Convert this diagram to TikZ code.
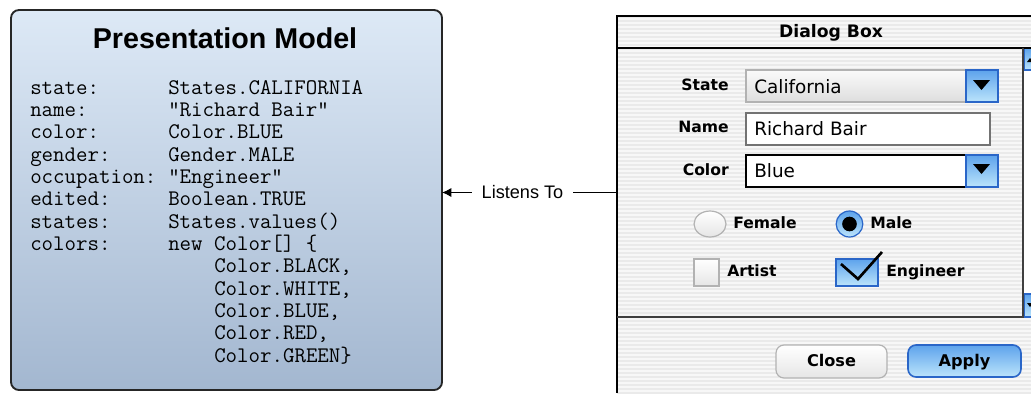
\documentclass[tikz,border=0pt]{standalone}
\usepackage{fontspec}
\setmainfont{Liberation Sans}
\newfontfamily\guifont{DejaVu Sans}
\usetikzlibrary{positioning,arrows.meta}

\definecolor{modeltop}{HTML}{DDE9F6}
\definecolor{modelbot}{HTML}{A3B7D0}
\definecolor{aquatop}{HTML}{5DA3EC}
\definecolor{aquabot}{HTML}{BCE4FB}
\definecolor{aquaedge}{HTML}{2A66C8}
\definecolor{stripe}{HTML}{EAEAEA}

\begin{document}
\begin{tikzpicture}[x=0.75pt,y=-0.75pt,>={Latex[length=7pt,width=7pt]},
    code/.style={font=\ttfamily\fontsize{16.7}{19}\selectfont,anchor=base west,inner sep=0},
    lbl/.style={font=\guifont\bfseries\fontsize{11.7}{14}\selectfont,inner sep=0},
    btn/.style={font=\guifont\bfseries\fontsize{12.1}{14}\selectfont,inner sep=0,anchor=base},
    txt/.style={font=\guifont\fontsize{13.8}{16}\selectfont,anchor=base west,inner sep=0},
    field/.style={fill=white,draw=black!55,line width=1.1pt},
    aqua/.style={top color=aquatop,bottom color=aquabot,draw=aquaedge,line width=0.9pt},
    plain/.style={top color=white,bottom color=black!10,draw=black!30,line width=0.9pt}]
    \useasboundingbox (0,0) rectangle (1031,393);
    \clip (0,0) rectangle (1031,393);

    % the model
    \node[draw=black!85,line width=1.4pt,rounded corners=6pt,top color=modeltop,bottom color=modelbot,
        minimum width=323.25pt,minimum height=285pt,inner sep=0,outer sep=0] (model) at (226.5,200) {};
    \node[font=\bfseries\fontsize{21.5}{24}\selectfont,anchor=base,inner sep=0] (title) at (225,48) {Presentation Model};
    \foreach \k/\v [count=\i] in {state:/States.CALIFORNIA, name:/"Richard Bair", color:/Color.BLUE,
        gender:/Gender.MALE, occupation:/"Engineer", edited:/Boolean.TRUE, states:/States.values(),
        colors:/new Color[] \{}
    {
        \node[code] (key\i) at (30,{94+22.35*(\i-1)}) {\k};
        \node[code] (val\i) at (168,{94+22.35*(\i-1)}) {\v};
    }
    \foreach \v [count=\i] in {{Color.BLACK,},{Color.WHITE,},{Color.BLUE,},{Color.RED,},{Color.GREEN\}}}
        \node[code] (item\i) at (214,{94+22.35*(\i+7)}) {\v};

    % the dialog
    \fill[black!3] (617,15) rectangle (1031,393);
    \foreach \y in {17,21,...,393}
        \draw[stripe,line width=1.5pt] (617,\y)--(1031,\y);
    \node[lbl,font=\guifont\bfseries\fontsize{12.9}{15}\selectfont,anchor=base] (dlgtitle) at (831,37.5) {Dialog Box};
    \fill[white] (1023,48) rectangle (1031,317);
    \draw[aqua] (1024,48) rectangle (1036,70);
    \draw[aqua] (1024,294) rectangle (1036,317);
    \fill (1027,62)--(1033,62)--(1030,58)--cycle;
    \fill (1027,303)--(1033,303)--(1030,307)--cycle;
    \draw[line width=1.5pt] (1031,15.5)--(617,15.5)--(617,393);
    \draw[line width=1.5pt] (617,47.5)--(1031,47.5);
    \draw[black!75,line width=1.5pt] (617,317)--(1023,317)--(1023,47.5);

    \node[lbl,anchor=base east] (lstate) at (729,90) {State};
    \node[lbl,anchor=base east] (lname) at (729,132) {Name};
    \node[lbl,anchor=base east] (lcolor) at (729,175) {Color};

    \draw[top color=black!2,bottom color=black!13,draw=black!30,line width=0.9pt] (746,70) rectangle (966,102);
    \draw[aqua] (966,70) rectangle (998,102);
    \fill (973,80)--(990,80)--(981.5,90)--cycle;
    \node[txt] (vstate) at (754,93) {California};

    \draw[field] (746,113) rectangle (990,145);
    \node[txt] (vname) at (754,135) {Richard Bair};

    \draw[fill=white,line width=1.2pt] (746,155) rectangle (966,187);
    \draw[aqua] (966,155) rectangle (998,187);
    \fill (973,164)--(990,164)--(981.5,174)--cycle;
    \node[txt] (vcolor) at (754,177) {Blue};

    \draw[plain] (710,224) ellipse (12pt and 9.75pt);
    \node[lbl,anchor=base west] (lfemale) at (733,228) {Female};
    \draw[aqua] (849.5,224) ellipse (10pt and 9.75pt);
    \fill (849.5,224) ellipse (5.5pt and 5.5pt);
    \node[lbl,anchor=base west] (lmale) at (870,228) {Male};

    \draw[plain] (694,259) rectangle (719,286);
    \node[lbl,anchor=base west] (lartist) at (727,276) {Artist};
    \draw[aqua] (836,259) rectangle (878,286);
    \draw[line width=2pt] (841,264)--(858,279)--(882,252);
    \node[lbl,anchor=base west] (lengineer) at (886,276) {Engineer};

    \draw[plain,rounded corners=6pt] (776,345) rectangle (887,378);
    \node[btn] (close) at (831.5,366) {Close};
    \draw[aqua,rounded corners=6pt,line width=1.2pt] (908,345) rectangle (1021,377);
    \node[btn] (apply) at (964.5,366) {Apply};

    \coordinate (dlg) at (617,192.5);
    \draw[->,line width=1pt] (dlg)--node[pos=.54,fill=white,font=\fontsize{13.6}{16}\selectfont,
        inner xsep=7.5pt,inner ysep=1pt] (listens) {Listens To} (dlg -| model.east);
\end{tikzpicture}
\end{document}
